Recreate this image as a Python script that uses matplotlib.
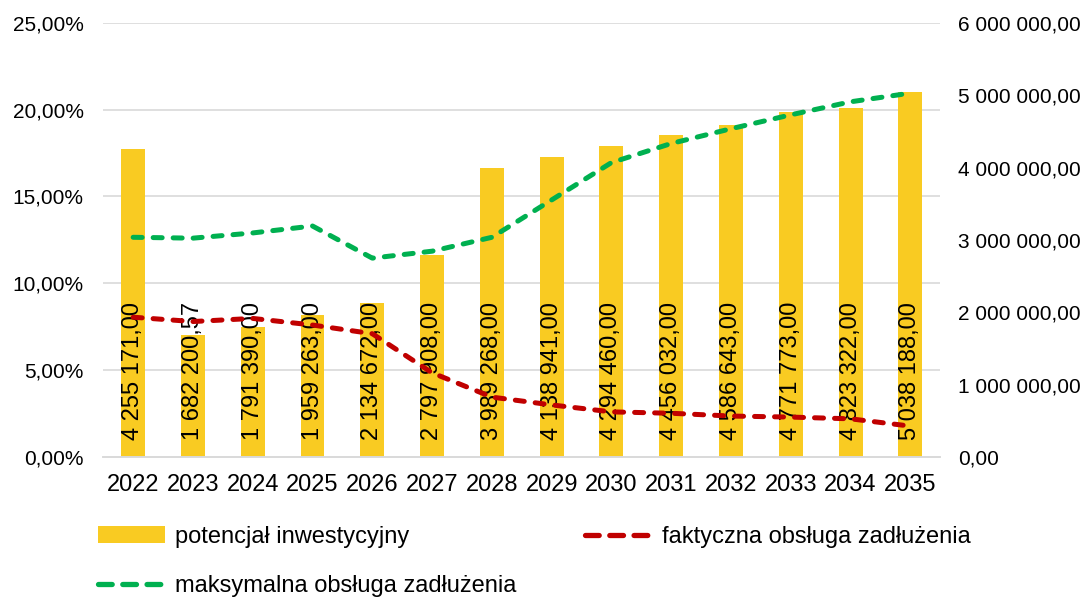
"""
Potencjał inwestycyjny vs. obsługa zadłużenia 2022-2035
"""

import numpy as np
import matplotlib.pyplot as plt
import matplotlib
from matplotlib.lines import Line2D
from matplotlib.ticker import FuncFormatter

# ─── dane ───────────────────────────────────────────────────────────────────
years = [2022, 2023, 2024, 2025, 2026, 2027, 2028,
         2029, 2030, 2031, 2032, 2033, 2034, 2035]

potencjal = [4255171.00, 1682200.57, 1791390.00, 1959263.00, 2134672.00,
             2797908.00, 3989268.00, 4138941.00, 4294460.00, 4456032.00,
             4586643.00, 4771773.00, 4823322.00, 5038188.00]

# wartości w %
faktyczna = [8.05, 7.80, 7.98, 7.60, 7.10, 4.85, 3.45,
             3.00, 2.60, 2.52, 2.36, 2.30, 2.20, 1.78]

maksymalna = [12.65, 12.60, 12.90, 13.30, 11.45, 11.85, 12.65,
              14.80, 16.95, 18.05, 18.90, 19.70, 20.45, 20.95]
# ────────────────────────────────────────────────────────────────────────────

matplotlib.rcParams["font.family"] = ["Liberation Sans", "DejaVu Sans"]
FS_Y   = 15      # etykiety osi pionowych
FS_BIG = 17      # lata, etykiety słupków, legenda

BAR_COLOR   = "#F9CB22"
RED         = "#C00000"
GREEN       = "#00B050"
GRID_COLOR  = "#D9D9D9"


def pl_number(v):
    """Formatowanie liczby w stylu polskim: 1 234 567,00"""
    s = f"{v:,.2f}"
    return s.replace(",", " ").replace(".", ",")


def main():
    fig = plt.figure(figsize=(10.87, 5.99), dpi=100)
    ax_pct = fig.add_axes([0.095, 0.237, 0.770, 0.725])
    ax_bar = ax_pct.twinx()

    # słupki na prawej osi, linie na lewej – linie mają być na wierzchu
    ax_bar.set_zorder(1)
    ax_pct.set_zorder(2)
    ax_pct.patch.set_visible(False)

    x = np.arange(len(years))

    # linie siatki (wg lewej osi) pod słupkami
    for v in np.arange(5, 26, 5):
        ax_bar.axhline(v / 25 * 6000000, color=GRID_COLOR, lw=1.2, zorder=1)

    bars = ax_bar.bar(x, potencjal, width=0.4, color=BAR_COLOR, zorder=2,
                      label="potencjał inwestycyjny")
    for xi, v in zip(x, potencjal):
        ax_bar.text(xi, 230000, pl_number(v), rotation=90, ha="center",
                    va="bottom", fontsize=FS_BIG, color="black", zorder=3)

    ax_pct.plot(x, faktyczna, color=RED, lw=3.6,
                dashes=(1.8, 2.2), dash_capstyle="round")
    ax_pct.plot(x, maksymalna, color=GREEN, lw=3.6,
                dashes=(1.8, 2.2), dash_capstyle="round")

    ax_pct.set_ylim(0, 25)
    ax_pct.set_yticks(np.arange(0, 26, 5))
    ax_pct.yaxis.set_major_formatter(
        FuncFormatter(lambda v, p: f"{v:.2f}%".replace(".", ",")))
    ax_bar.set_ylim(0, 6000000)
    ax_bar.set_yticks(np.arange(0, 6000001, 1000000))
    ax_bar.yaxis.set_major_formatter(FuncFormatter(lambda v, p: pl_number(v)))

    ax_pct.set_xlim(-0.5, len(years) - 0.5)
    ax_pct.set_xticks(x)
    ax_pct.set_xticklabels([str(y) for y in years])

    for a in (ax_pct, ax_bar):
        for side in ("top", "left", "right"):
            a.spines[side].set_visible(False)
        a.spines["bottom"].set_color(GRID_COLOR)
        a.spines["bottom"].set_linewidth(1.2)
        a.tick_params(length=0, colors="black")
    ax_pct.tick_params(axis="y", labelsize=FS_Y, pad=14)
    ax_pct.tick_params(axis="x", labelsize=FS_BIG, pad=12)
    ax_bar.tick_params(axis="y", labelsize=FS_Y, pad=13)

    # w legendzie kreski są krótsze i grubsze (3 na uchwyt)
    h_fakt = Line2D([], [], color=RED, lw=3.8, dashes=(2.6, 2.0),
                    dash_capstyle="round")
    h_max = Line2D([], [], color=GREEN, lw=3.8, dashes=(2.6, 2.0),
                   dash_capstyle="round")

    # kolejność wierszami: potencjał, faktyczna / maksymalna
    fig.legend([bars, h_max, h_fakt],
               ["potencjał inwestycyjny", "maksymalna obsługa zadłużenia",
                "faktyczna obsługa zadłużenia"],
               loc="upper left", bbox_to_anchor=(0.090, 0.122), ncol=2,
               frameon=False, fontsize=FS_BIG, handlelength=2.85,
               handletextpad=0.42, columnspacing=2.9, labelspacing=1.15,
               borderpad=0, borderaxespad=0)

    fig.savefig("out.png", dpi=100)
    plt.close(fig)


if __name__ == "__main__":
    main()
